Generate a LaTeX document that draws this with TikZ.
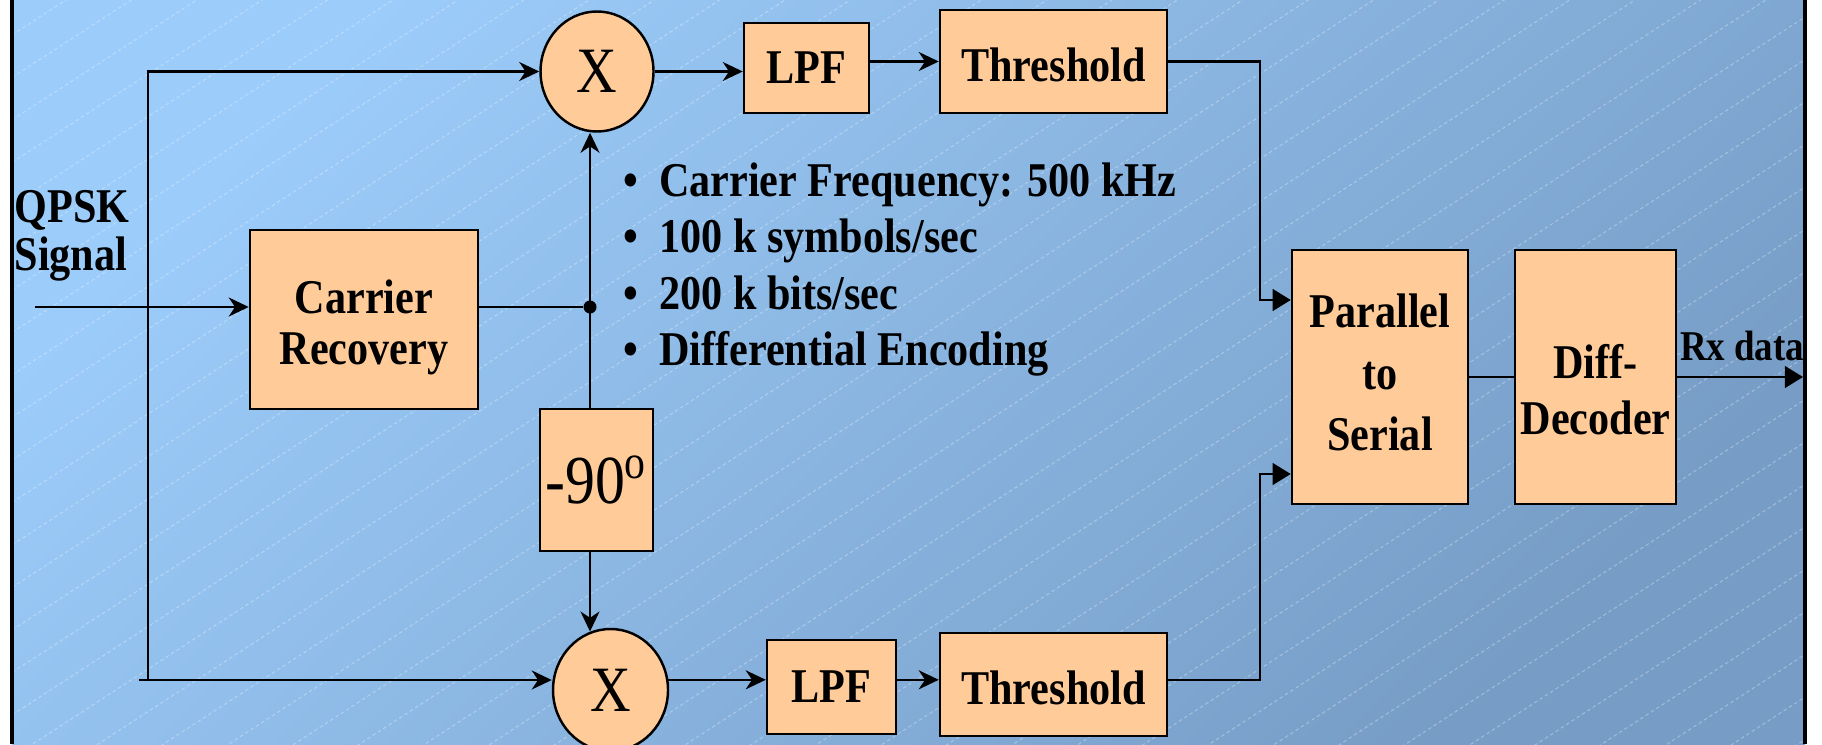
\documentclass[tikz,border=0pt]{standalone}
\usepackage{fontspec}
\setmainfont{Liberation Serif}
\usetikzlibrary{shapes.geometric, positioning, calc, arrows.meta}
\definecolor{peach}{RGB}{255,204,153}
\definecolor{bgtop}{RGB}{156,204,250}
\definecolor{bgbot}{RGB}{119,157,198}
\newcommand{\tallt}[1]{\scalebox{1}[1.15]{#1}}
\newcommand{\tallstack}[1]{\scalebox{1}[1.15]{\begin{tabular}{@{}c@{}}#1\end{tabular}}}

\begin{document}
\begin{tikzpicture}[
    font=\bfseries\fontsize{12}{12.6}\selectfont,
    blk/.style={rectangle, draw=black, line width=0.7pt, fill=peach, inner sep=0pt, align=center},
    mix/.style={ellipse, draw=black, line width=0.7pt, fill=peach, inner sep=0pt, font=\normalfont\fontsize{16}{16}\selectfont},
    wire/.style={line width=0.7pt},
    arrow/.style={wire, -{Stealth[length=5.7pt, width=5.4pt, inset=1.8pt]}},
    arrowr/.style={wire, -{Triangle[length=5.2pt, width=6.2pt]}},
    junc/.style={circle, fill=black, inner sep=0pt, minimum size=0.13cm},
    hatch/.style={white, opacity=0.3, line width=0.3pt, dash pattern=on 1pt off 0.8pt}
]

% Background
\fill[white] (0,0) rectangle (18.22,7.44);
\useasboundingbox (0,0) rectangle (18.22,7.44);
\shade[top color=bgtop, bottom color=bgbot, shading angle=45] (0.12,0) rectangle (18.05,7.44);
\begin{scope}
    \clip (0.12,0) rectangle (18.05,7.44);
    \foreach \k in {0,...,45}
        \draw[hatch] (0.12,{-11.61+0.425*\k}) -- ++(17.93,11.655);
\end{scope}
\draw[line width=1pt] (0.12,0) -- (0.12,7.44);
\draw[line width=1pt] (18.05,0) -- (18.05,7.44);

% Mixers
\node[mix, minimum width=1.13cm, minimum height=1.20cm] (mixA) at (5.97,6.725) {\tallt{X}};
\node[mix, minimum width=1.15cm, minimum height=1.22cm] (mixB) at (6.105,0.54) {\tallt{X}};

% Blocks
\node[blk, minimum width=1.25cm, minimum height=0.90cm] (lpfA) at (8.065,6.76) {\tallt{LPF}};
\node[blk, minimum width=2.27cm, minimum height=1.03cm] (thrA) at (10.535,6.825) {\tallt{\rule{0pt}{0.35cm}Threshold}};
\node[blk, minimum width=1.29cm, minimum height=0.94cm] (lpfB) at (8.315,0.57) {\tallt{LPF}};
\node[blk, minimum width=2.27cm, minimum height=1.03cm] (thrB) at (10.535,0.595) {\tallt{\rule{0pt}{0.35cm}Threshold}};
\node[blk, minimum width=2.28cm, minimum height=1.79cm] (carrier) at (3.64,4.245) {\tallstack{\rule{0pt}{0.47cm}Carrier\\Recovery}};
\node[blk, minimum width=1.13cm, minimum height=1.42cm, font=\normalfont\fontsize{17}{17}\selectfont] (shift) at (5.965,2.64) {\tallt{-90\textsuperscript{o}}};
\node[blk, minimum width=1.76cm, minimum height=2.54cm, font=\bfseries\fontsize{12}{15.2}\selectfont] (p2s) at (13.80,3.67) {\tallstack{Parallel\\to\\Serial}};
\node[blk, minimum width=1.61cm, minimum height=2.54cm, font=\bfseries\fontsize{12}{13.7}\selectfont] (decoder) at (15.955,3.67) {\tallstack{\rule{0pt}{0.66cm}Diff-\\Decoder}};

% Labels
\node[anchor=west, inner sep=0pt, font=\bfseries\fontsize{12}{12}\selectfont] (qpsk) at (0.14,5.07) {\scalebox{1}[1.15]{\begin{tabular}{@{}l@{}}QPSK\\Signal\end{tabular}}};
\node[anchor=base, font=\bfseries\fontsize{10.5}{12}\selectfont] (rx) at (17.42,3.84) {\tallt{Rx data}};
\foreach \txt [count=\i] in {Carrier Frequency: 500 kHz, 100 k symbols/sec, 200 k bits/sec, Differential Encoding}
    \node[anchor=base west] (note\i) at (6.11,{5.48-0.565*(\i-1)}) {\tallt{\textbullet\hspace{0.5em}\txt}};

% Free ends and junctions
\coordinate (input) at (0.35,4.37);
\coordinate (split) at (1.48,0.64);
\coordinate (tapB) at (1.39,0.64);
\coordinate (output) at (18.03,3.67);
\coordinate (joinA) at (12.60,4.44);
\coordinate (joinB) at (12.60,2.70);
\node[junc] (tap) at (5.90,4.37) {};

% Input side
\draw[arrow] (input) -- (input -| carrier.west);
\draw[arrow] (split) |- (mixA.west);
\draw[arrow] (tapB) -- (tapB -| mixB.west);

% Carrier to mixers
\draw[wire] (carrier.east |- tap) -- (tap);
\draw[arrow] (tap |- shift.north) -- (tap |- mixA.south);
\draw[arrow] (tap |- shift.south) -- (tap |- mixB.109);

% I branch
\draw[arrow] (mixA.east) -- (mixA.east -| lpfA.west);
\draw[arrow] (lpfA.east |- thrA.west) -- (thrA.west);
\draw[arrowr] (thrA.east) -| (joinA) -- (joinA -| p2s.west);

% Q branch
\draw[arrow] (mixB.10) -- (mixB.10 -| lpfB.west);
\draw[arrow] (mixB.10 -| lpfB.east) -- (mixB.10 -| thrB.west);
\draw[arrowr] (mixB.10 -| thrB.east) -| (joinB) -- (joinB -| p2s.west);

% Output
\draw[wire] (p2s.east) -- (decoder.west);
\draw[arrowr] (decoder.east) -- (output);

\end{tikzpicture}
\end{document}
